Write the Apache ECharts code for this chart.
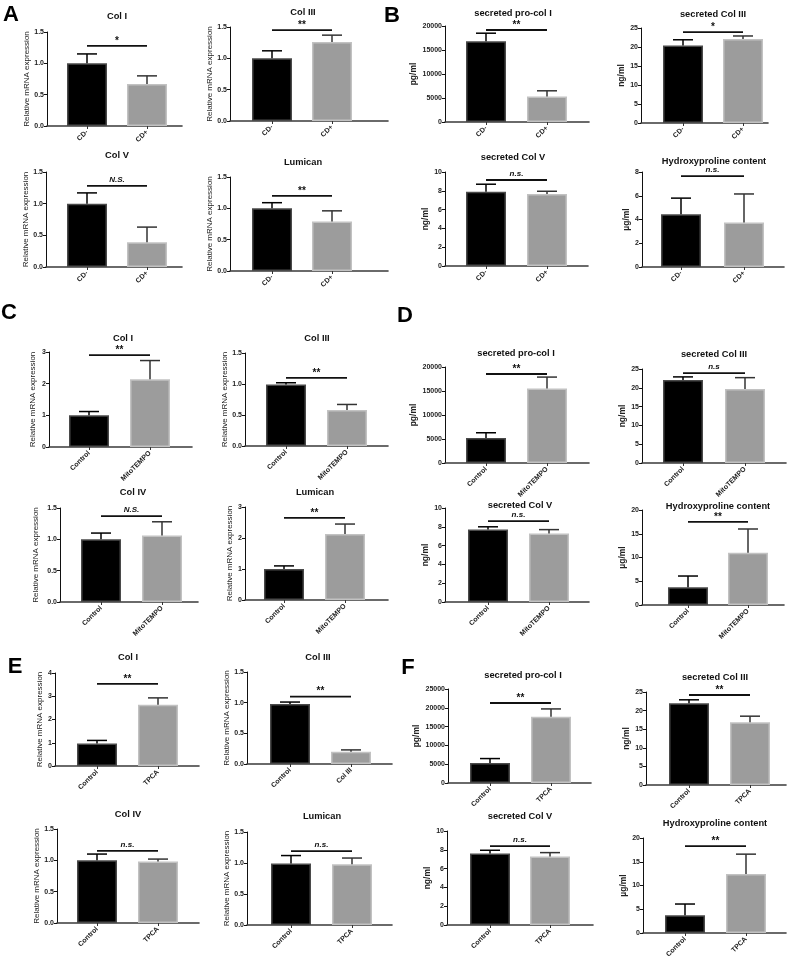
<!DOCTYPE html>
<html>
<head>
<meta charset="utf-8">
<script src="https://cdn.jsdelivr.net/npm/echarts@6/dist/echarts.min.js"></script>
<style>html,body{margin:0;padding:0;background:#fff}#c{width:792px;height:961px}</style>
</head>
<body>
<div id="c"></div>
<script>
// ---------------- DATA ----------------
const REL = 'Relative mRNA expression';
const chartTitles = [
  'Col I', 'Col III', 'Col V', 'Lumican',
  'secreted pro-col I', 'secreted Col III', 'secreted Col V', 'Hydroxyproline content',
  'Col I', 'Col III', 'Col IV', 'Lumican',
  'secreted pro-col I', 'secreted Col III', 'secreted Col V', 'Hydroxyproline content',
  'Col I', 'Col III', 'Col IV', 'Lumican',
  'secreted pro-col I', 'secreted Col III', 'secreted Col V', 'Hydroxyproline content'
];
const yNames = [
  REL, REL, REL, REL, 'pg/ml', 'ng/ml', 'ng/ml', 'µg/ml',
  REL, REL, REL, REL, 'pg/ml', 'ng/ml', 'ng/ml', 'µg/ml',
  REL, REL, REL, REL, 'pg/ml', 'ng/ml', 'ng/ml', 'µg/ml'
];
const catsCD = ['CD-', 'CD+'];
const catsMito = ['Control', 'MitoTEMPO'];
const catsTPCA = ['Control', 'TPCA'];
const catsE2 = ['Control', 'Col III'];
const categories = [
  catsCD, catsCD, catsCD, catsCD, catsCD, catsCD, catsCD, catsCD,
  catsMito, catsMito, catsMito, catsMito, catsMito, catsMito, catsMito, catsMito,
  catsTPCA, catsE2, catsTPCA, catsTPCA, catsTPCA, catsTPCA, catsTPCA, catsTPCA
];
const means = [
  [1.0, 0.67], [1.0, 1.26], [1.0, 0.39], [1.0, 0.79],
  [16800, 5300], [20.4, 22.1], [7.9, 7.65], [4.45, 3.75],
  [1.0, 2.14], [0.99, 0.58], [1.0, 1.06], [1.0, 2.13],
  [5200, 15500], [22.1, 19.7], [7.7, 7.3], [3.75, 11.0],
  [0.97, 2.63], [0.98, 0.20], [1.0, 0.98], [0.99, 0.98],
  [5300, 17600], [22.0, 16.9], [7.6, 7.3], [3.75, 12.4]
];
const upperErr = [
  [1.15, 0.80], [1.12, 1.37], [1.17, 0.63], [1.09, 0.96],
  [18500, 6500], [21.9, 22.9], [8.7, 7.95], [5.8, 6.15],
  [1.12, 2.73], [1.02, 0.67], [1.10, 1.28], [1.10, 2.45],
  [6300, 17900], [22.9, 22.7], [8.0, 7.7], [6.1, 16.0],
  [1.10, 2.93], [1.01, 0.23], [1.10, 1.02], [1.12, 1.08],
  [6500, 19700], [22.9, 18.5], [7.95, 7.7], [6.1, 16.6]
];
const sigLevel = [
  1.28, 1.45, 1.28, 1.20, 19170, 23.9, 9.15, 7.66,
  2.9, 1.10, 1.37, 2.65, 18540, 23.9, 8.6, 17.5,
  3.53, 1.10, 1.15, 1.19, 21280, 24.2, 8.4, 18.3
];
const sigText = [
  '*', '**', 'N.S.', '**', '**', '*', 'n.s.', 'n.s.',
  '**', '**', 'N.S.', '**', '**', 'n.s', 'n.s.', '**',
  '**', '**', 'n.s.', 'n.s.', '**', '**', 'n.s.', '**'
];
const yMax = [
  1.5, 1.5, 1.5, 1.5, 20000, 25, 10, 8,
  3, 1.5, 1.5, 3, 20000, 25, 10, 20,
  4, 1.5, 1.5, 1.5, 25000, 25, 10, 20
];
const yStep = [
  0.5, 0.5, 0.5, 0.5, 5000, 5, 2, 2,
  1, 0.5, 0.5, 1, 5000, 5, 2, 5,
  1, 0.5, 0.5, 0.5, 5000, 5, 2, 5
];
const panelLetters = ['A', 'B', 'C', 'D', 'E', 'F'];

// ---------------- LAYOUT (pixels) ----------------
// [axisX, axisRight, center0, center1, topPx, zeroPx, titleX, titleY, nameX]
const layout = [
  [47, 182, 87, 147, 32, 126, 117, 16, 27],
  [230, 388, 272, 332, 27, 121, 303, 12, 213],
  [46, 182, 87, 147, 172, 267, 117, 155, 27],
  [230, 388, 272, 332, 177, 271, 303, 162, 213],
  [445, 589, 486, 547, 26, 122, 513, 13, 419],
  [641, 768, 683, 743, 28, 123, 713, 14, 625],
  [445, 588, 486, 547, 172, 266, 513, 157, 428],
  [642, 784, 681, 744, 172, 267, 714, 161, 629],
  [49, 192, 89, 150, 352, 447, 123, 338, 33],
  [245, 388, 286, 347, 353, 446, 317, 338, 229],
  [60, 198, 101, 162, 508, 602, 133, 492, 36],
  [245, 388, 284, 345, 507, 600, 315, 492, 231],
  [445, 589, 486, 547, 367, 463, 516, 353, 417],
  [642, 786, 683, 745, 369, 463, 714, 354, 628],
  [445, 589, 488, 549, 508, 602, 520, 505, 427],
  [642, 784, 688, 748, 510, 605, 718, 506, 628],
  [55, 199, 97, 158, 673, 766, 128, 657, 43],
  [247, 392, 290, 351, 672, 764, 318, 657, 231],
  [57, 199, 97, 158, 829, 923, 128, 814, 38],
  [247, 392, 291, 352, 832, 925, 322, 816, 233],
  [448, 591, 490, 551, 689, 783, 523, 675, 418],
  [646, 786, 689, 750, 692, 785, 715, 677, 631],
  [447, 593, 490, 550, 831, 925, 520, 816, 433],
  [643, 786, 685, 746, 838, 933, 715, 823, 626]
];
const letterPos = [[11, 15], [392, 16], [9, 313], [405, 316], [15, 667], [408, 668]];

const FONT = 'Liberation Sans, Arial, sans-serif';
const chart = echarts.init(document.getElementById('c'), null, {renderer: 'canvas'});

const grids = [], xAxes = [], yAxes = [], series = [], titles = [], graphics = [];

chartTitles.forEach((t, i) => {
  const [ax, ar, c0, c1, top, zero, tx, ty, nx] = layout[i];
  const unit = c1 - c0;
  const xmin = -(c0 - ax) / unit;
  const xmax = 1 + (ar - c1) / unit;
  grids.push({left: ax, top: top, width: ar - ax, height: zero - top, outerBoundsMode: 'none', containLabel: false});
  const cats = categories[i];
  xAxes.push({
    type: 'value', gridIndex: i, min: xmin, max: xmax,
    splitLine: {show: false},
    axisLine: {show: true, onZero: false, lineStyle: {color: '#3a3a3a', width: 1.6}},
    axisTick: {show: true, customValues: [0, 1], length: 3, lineStyle: {color: '#333'}},
    axisLabel: {
      show: true, customValues: [0, 1], rotate: 45, margin: 5,
      fontSize: 7, fontWeight: 'bold', fontFamily: FONT, color: '#222',
      formatter: v => cats[Math.round(v)]
    }
  });
  const step = yStep[i];
  const gap = ax - nx - 4;
  yAxes.push({
    type: 'value', gridIndex: i, min: 0, max: yMax[i], interval: step,
    name: yNames[i], nameLocation: 'middle', nameGap: gap, nameRotate: 90,
    nameTextStyle: {fontSize: yNames[i] === REL ? 8 : 8.5, fontFamily: FONT, color: '#222',
      fontWeight: yNames[i] === REL ? 'normal' : 'bold'},
    splitLine: {show: false},
    axisLine: {show: true, onZero: false, lineStyle: {color: '#111', width: 1}},
    axisTick: {show: true, length: 3, lineStyle: {color: '#111'}},
    axisLabel: {
      fontSize: 7, fontWeight: 'bold', fontFamily: FONT, color: '#222', margin: 3,
      formatter: v => step < 1 ? v.toFixed(1) : String(v)
    }
  });
  titles.push({
    text: t, left: tx, top: ty, textAlign: 'center', textVerticalAlign: 'middle', padding: 0,
    textStyle: {fontSize: 9.3, fontWeight: 'bold', fontFamily: FONT, color: '#111'}
  });
  const m = means[i], u = upperErr[i];
  series.push({
    type: 'bar', xAxisIndex: i, yAxisIndex: i, barWidth: 40, silent: true, animation: false,
    data: [
      {value: [0, m[0]], itemStyle: {color: '#000', borderColor: '#4a4a4a', borderWidth: 1.5}},
      {value: [1, m[1]], itemStyle: {color: '#9c9c9c', borderColor: '#c2c2c2', borderWidth: 1.5}}
    ]
  });
  series.push({
    type: 'custom', xAxisIndex: i, yAxisIndex: i, z: 5, silent: true, animation: false,
    data: [[0, m[0], u[0]], [1, m[1], u[1]]],
    encode: {x: 0, y: [1, 2]},
    renderItem: (params, api) => {
      const x = api.value(0);
      const p0 = api.coord([x, api.value(1)]);
      const p1 = api.coord([x, api.value(2)]);
      const col = x === 0 ? '#000' : '#333';
      return {type: 'group', children: [
        {type: 'line', shape: {x1: p0[0], y1: p0[1], x2: p1[0], y2: p1[1]}, style: {stroke: col, lineWidth: 1.5}},
        {type: 'line', shape: {x1: p1[0] - 10, y1: p1[1], x2: p1[0] + 10, y2: p1[1]}, style: {stroke: col, lineWidth: 1.5}}
      ]};
    }
  });
  const label = sigText[i];
  const isNS = label.toLowerCase().indexOf('n') === 0;
  series.push({
    type: 'custom', xAxisIndex: i, yAxisIndex: i, z: 5, silent: true, animation: false,
    data: [[0, 1, sigLevel[i]]],
    encode: {x: [0, 1], y: 2},
    renderItem: (params, api) => {
      const p0 = api.coord([api.value(0), api.value(2)]);
      const p1 = api.coord([api.value(1), api.value(2)]);
      return {type: 'group', children: [
        {type: 'line', shape: {x1: p0[0], y1: p0[1], x2: p1[0], y2: p1[1]}, style: {stroke: '#111', lineWidth: 1.8}},
        {type: 'text', x: (p0[0] + p1[0]) / 2, y: p0[1] - (isNS ? 6 : 5),
          style: {text: label, align: 'center', verticalAlign: 'middle',
            font: (isNS ? 'italic bold 8px ' : 'bold 10px ') + FONT, fill: '#111'}}
      ]};
    }
  });
});

panelLetters.forEach((L, k) => {
  graphics.push({type: 'text', x: letterPos[k][0], y: letterPos[k][1],
    style: {text: L, font: 'bold 22px ' + FONT, fill: '#000', align: 'center', verticalAlign: 'middle'}});
});

chart.setOption({
  animation: false,
  backgroundColor: '#fff',
  title: titles,
  grid: grids,
  xAxis: xAxes,
  yAxis: yAxes,
  series: series,
  graphic: graphics
});
</script>
</body>
</html>
